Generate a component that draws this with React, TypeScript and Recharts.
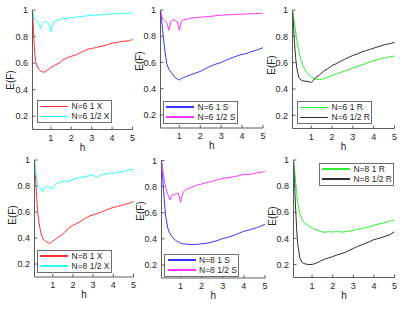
import React from 'react';
import { LineChart, Line, XAxis, YAxis } from 'recharts';

// h values shared by every curve
const H = [0.1, 0.15, 0.2, 0.25, 0.3, 0.4, 0.5, 0.6, 0.7, 0.8, 0.9, 1.0, 1.1, 1.2, 1.4, 1.6, 1.8, 2.0, 2.2, 2.4, 2.6, 2.8, 3.0, 3.2, 3.4, 3.6, 3.8, 4.0, 4.2, 4.4, 4.6, 4.8, 5.0];

const N6_1X = [1.0, 0.84, 0.69, 0.62, 0.585, 0.555, 0.54, 0.533, 0.532, 0.545, 0.555, 0.567, 0.575, 0.585, 0.6, 0.625, 0.64, 0.652, 0.66, 0.675, 0.69, 0.705, 0.71, 0.717, 0.725, 0.73, 0.74, 0.75, 0.755, 0.762, 0.765, 0.768, 0.778];
const N6_HX = [1.0, 0.96, 0.935, 0.925, 0.92, 0.9, 0.857, 0.9, 0.915, 0.91, 0.895, 0.837, 0.905, 0.915, 0.925, 0.935, 0.938, 0.942, 0.945, 0.95, 0.953, 0.957, 0.96, 0.962, 0.964, 0.966, 0.968, 0.97, 0.972, 0.973, 0.975, 0.976, 0.978];
const N6_1S = [1.0, 0.93, 0.85, 0.77, 0.7, 0.59, 0.548, 0.527, 0.505, 0.485, 0.475, 0.465, 0.478, 0.485, 0.497, 0.51, 0.52, 0.532, 0.548, 0.565, 0.578, 0.59, 0.6, 0.615, 0.628, 0.64, 0.652, 0.662, 0.667, 0.68, 0.69, 0.7, 0.712];
const N6_HS = [1.0, 0.96, 0.935, 0.925, 0.92, 0.905, 0.845, 0.915, 0.925, 0.922, 0.91, 0.845, 0.915, 0.925, 0.932, 0.938, 0.942, 0.945, 0.948, 0.95, 0.953, 0.958, 0.96, 0.962, 0.964, 0.965, 0.967, 0.968, 0.97, 0.971, 0.972, 0.974, 0.976];
const N6_1R = [1.0, 0.95, 0.895, 0.84, 0.78, 0.69, 0.625, 0.58, 0.548, 0.525, 0.505, 0.492, 0.482, 0.475, 0.472, 0.477, 0.49, 0.502, 0.512, 0.525, 0.535, 0.548, 0.56, 0.57, 0.58, 0.592, 0.605, 0.615, 0.622, 0.632, 0.638, 0.645, 0.65];
const N6_HR = [1.0, 0.88, 0.74, 0.64, 0.565, 0.49, 0.47, 0.462, 0.46, 0.457, 0.455, 0.45, 0.465, 0.485, 0.508, 0.535, 0.555, 0.578, 0.592, 0.61, 0.625, 0.64, 0.655, 0.665, 0.68, 0.69, 0.7, 0.71, 0.72, 0.73, 0.74, 0.745, 0.755];
const N8_1X = [1.0, 0.88, 0.73, 0.62, 0.54, 0.45, 0.4, 0.38, 0.37, 0.36, 0.362, 0.375, 0.385, 0.398, 0.418, 0.445, 0.478, 0.497, 0.512, 0.53, 0.55, 0.568, 0.578, 0.588, 0.598, 0.612, 0.625, 0.635, 0.642, 0.65, 0.66, 0.668, 0.68];
const N8_HX = [1.0, 0.92, 0.86, 0.82, 0.795, 0.78, 0.758, 0.79, 0.798, 0.79, 0.785, 0.775, 0.8, 0.82, 0.83, 0.84, 0.835, 0.852, 0.858, 0.868, 0.872, 0.878, 0.885, 0.865, 0.885, 0.892, 0.898, 0.9, 0.905, 0.91, 0.915, 0.925, 0.928];
const N8_1S = [1.0, 0.89, 0.765, 0.655, 0.57, 0.48, 0.44, 0.415, 0.398, 0.385, 0.375, 0.367, 0.362, 0.36, 0.358, 0.355, 0.358, 0.362, 0.365, 0.372, 0.38, 0.39, 0.402, 0.41, 0.42, 0.432, 0.445, 0.458, 0.465, 0.475, 0.485, 0.497, 0.512];
const N8_HS = [1.0, 0.93, 0.88, 0.83, 0.79, 0.74, 0.7, 0.735, 0.74, 0.745, 0.75, 0.68, 0.75, 0.77, 0.788, 0.8, 0.812, 0.82, 0.83, 0.836, 0.845, 0.855, 0.862, 0.868, 0.872, 0.878, 0.885, 0.895, 0.892, 0.898, 0.905, 0.91, 0.915];
const N8_1R = [1.0, 0.93, 0.84, 0.75, 0.68, 0.595, 0.548, 0.522, 0.51, 0.5, 0.49, 0.48, 0.472, 0.466, 0.455, 0.445, 0.452, 0.448, 0.452, 0.448, 0.45, 0.456, 0.46, 0.47, 0.475, 0.48, 0.49, 0.5, 0.508, 0.515, 0.522, 0.532, 0.54];
const N8_HR = [1.0, 0.82, 0.64, 0.48, 0.36, 0.255, 0.218, 0.207, 0.203, 0.2, 0.2, 0.2, 0.205, 0.21, 0.225, 0.24, 0.25, 0.26, 0.272, 0.282, 0.292, 0.308, 0.322, 0.338, 0.35, 0.362, 0.375, 0.39, 0.398, 0.408, 0.418, 0.43, 0.45];

const X_TICKS = [1, 2, 3, 4, 5];
const Y_TICKS = [0.2, 0.4, 0.6, 0.8, 1];

const W = 415;
const HT = 312;
const FONT = '"Liberation Sans", Arial, sans-serif';
const AXIS = '#5c5c5c';
const TXT = '#262626';

type Series = { name: string; color: string; values: number[] };
type PanelDef = {
  a: Series;
  b: Series;
  l: number; t: number; r: number; bt: number;
  labX: number; labY: number;
  leg: { x: number; y: number };
};

const panels: PanelDef[] = [
  { a: { name: 'N=6 1 X', color: '#ff3030', values: N6_1X }, b: { name: 'N=6 1/2 X', color: '#30ffff', values: N6_HX }, l: 32.5, t: 10, r: 132.5, bt: 129.5, labX: 10.5, labY: 80, leg: { x: 36.5, y: 100 } },
  { a: { name: 'N=6 1 S', color: '#3535ff', values: N6_1S }, b: { name: 'N=6 1/2 S', color: '#ff35ff', values: N6_HS }, l: 160.5, t: 10, r: 263, bt: 128, labX: 139, labY: 61, leg: { x: 162.5, y: 100.5 } },
  { a: { name: 'N=6 1 R', color: '#30f030', values: N6_1R }, b: { name: 'N=6 1/2 R', color: '#303030', values: N6_HR }, l: 292.5, t: 10, r: 394.5, bt: 128.5, labX: 271.5, labY: 65, leg: { x: 296.5, y: 101 } },
  { a: { name: 'N=8 1 X', color: '#ff3030', values: N8_1X }, b: { name: 'N=8 1/2 X', color: '#30ffff', values: N8_HX }, l: 34.5, t: 160, r: 133.5, bt: 277, labX: 12, labY: 215, leg: { x: 36.5, y: 249.5 } },
  { a: { name: 'N=8 1 S', color: '#3535ff', values: N8_1S }, b: { name: 'N=8 1/2 S', color: '#ff35ff', values: N8_HS }, l: 161.5, t: 160.5, r: 265, bt: 278, labX: 140, labY: 211, leg: { x: 164, y: 253.5 } },
  { a: { name: 'N=8 1 R', color: '#30f030', values: N8_1R }, b: { name: 'N=8 1/2 R', color: '#303030', values: N8_HR }, l: 293.5, t: 160, r: 394.5, bt: 277.5, labX: 272, labY: 216, leg: { x: 318.5, y: 162.5 } },
];

const tickStyle = { fontSize: 9, fill: TXT, fontFamily: FONT };

const Panel = ({ p }: { p: PanelDef }) => {
  const data = H.map((h, i) => ({ h, a: p.a.values[i], b: p.b.values[i] }));
  // the chart covers the whole page, so label coordinates are page coordinates
  const yLabel = () => (
    <text
      x={p.labX}
      y={p.labY}
      transform={`rotate(-90 ${p.labX} ${p.labY})`}
      textAnchor="middle"
      dominantBaseline="central"
      fontSize={10}
      fill={TXT}
      fontFamily={FONT}
    >
      E(F)
    </text>
  );
  return (
    <div style={{ position: 'absolute', left: 0, top: 0 }}>
      <LineChart
        width={W}
        height={HT}
        data={data}
        margin={{ top: p.t, left: p.l - 32, right: W - p.r, bottom: HT - p.bt - 30 }}
      >
        <XAxis
          xAxisId="b"
          dataKey="h"
          type="number"
          domain={[0.1, 5]}
          ticks={X_TICKS}
          height={30}
          tickSize={-3}
          tickMargin={8}
          tick={tickStyle}
          axisLine={{ stroke: AXIS }}
          tickLine={{ stroke: AXIS }}
          label={{ value: 'h', position: 'insideBottom', offset: 9, fontSize: 10, fill: TXT, fontFamily: FONT }}
        />
        <XAxis
          xAxisId="t"
          dataKey="h"
          orientation="top"
          type="number"
          domain={[0.1, 5]}
          ticks={X_TICKS}
          height={0}
          tickSize={-3}
          tickFormatter={() => ''}
          axisLine={{ stroke: AXIS }}
          tickLine={{ stroke: AXIS }}
        />
        <YAxis
          yAxisId="l"
          type="number"
          domain={[0.1, 1]}
          ticks={Y_TICKS}
          width={32}
          tickSize={-3}
          tickMargin={7.5}
          tick={tickStyle}
          axisLine={{ stroke: AXIS }}
          tickLine={{ stroke: AXIS }}
          label={yLabel}
        />
        <YAxis
          yAxisId="r"
          orientation="right"
          type="number"
          domain={[0.1, 1]}
          ticks={Y_TICKS}
          width={0}
          tickSize={-3}
          tickFormatter={() => ''}
          axisLine={{ stroke: AXIS }}
          tickLine={{ stroke: AXIS }}
        />
        <Line xAxisId="b" yAxisId="l" type="linear" dataKey="a" name={p.a.name} stroke={p.a.color} strokeWidth={1} dot={false} isAnimationActive={false} />
        <Line xAxisId="b" yAxisId="l" type="linear" dataKey="b" name={p.b.name} stroke={p.b.color} strokeWidth={1} dot={false} isAnimationActive={false} />
      </LineChart>
    </div>
  );
};

const LegendBox = ({ p }: { p: PanelDef }) => (
  <div
    style={{
      position: 'absolute', left: p.leg.x, top: p.leg.y, width: 75, height: 23,
      boxSizing: 'border-box', border: '1px solid #6e6e6e', background: '#fff',
    }}
  >
    {[p.a, p.b].map((s, i) => (
      <div key={s.name} style={{ position: 'absolute', left: 0, top: 5.5 + i * 10, height: 0, width: '100%' }}>
        <div style={{ position: 'absolute', left: 2.5, top: -0.75, width: 28, height: 1.5, background: s.color }} />
        <span style={{ position: 'absolute', left: 34, top: -5.5, fontSize: 8.5, lineHeight: '11px', fontFamily: FONT, color: TXT, whiteSpace: 'nowrap' }}>
          {s.name}
        </span>
      </div>
    ))}
  </div>
);

export default function App() {
  return (
    <div style={{ position: 'absolute', left: 0, top: 0, width: W, height: HT, background: '#fff' }}>
      {panels.map((p, i) => (
        <Panel key={i} p={p} />
      ))}
      {panels.map((p, i) => (
        <LegendBox key={'l' + i} p={p} />
      ))}
    </div>
  );
}
